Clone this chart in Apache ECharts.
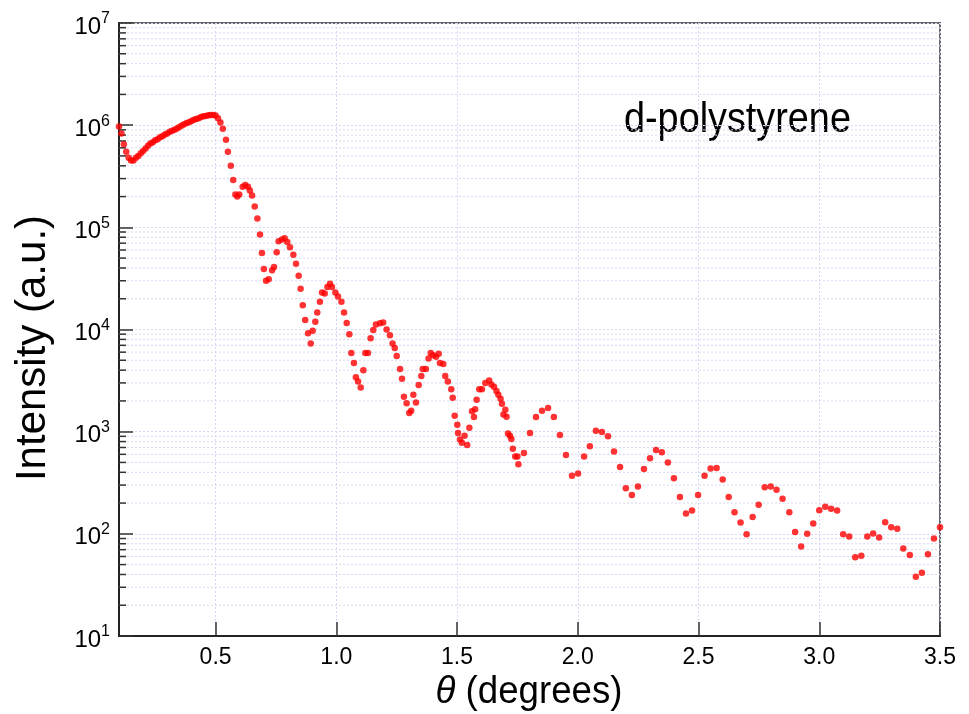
<!DOCTYPE html>
<html>
<head>
<meta charset="utf-8">
<title>d-polystyrene reflectivity</title>
<script src="https://cdn.jsdelivr.net/npm/echarts@6/dist/echarts.min.js"></script>
<style>
  html, body { margin: 0; padding: 0; background: #fff; }
  #chart { width: 969px; height: 714px; }
</style>
</head>
<body>
<div id="chart"></div>
<script>
// 数据：θ (度) 与强度
const theta = [
  0.10, 0.11, 0.12, 0.13, 0.14, 0.15, 0.16, 0.17, 0.18, 0.19,
  0.20, 0.21, 0.22, 0.23, 0.24, 0.25, 0.26, 0.27, 0.28, 0.29,
  0.30, 0.31, 0.32, 0.33, 0.34, 0.35, 0.36, 0.37, 0.38, 0.39,
  0.40, 0.41, 0.42, 0.43, 0.44, 0.45, 0.46, 0.47, 0.48, 0.49,
  0.50, 0.51, 0.52, 0.53,
  0.543, 0.551, 0.563, 0.573, 0.582, 0.590, 0.598, 0.612, 0.623, 0.634,
  0.642, 0.651, 0.662, 0.673, 0.684, 0.692, 0.700, 0.709, 0.720, 0.734,
  0.742, 0.753, 0.761, 0.775, 0.786, 0.797, 0.808, 0.822, 0.833, 0.844,
  0.852, 0.861, 0.871, 0.883, 0.894, 0.902, 0.913, 0.921, 0.932, 0.941,
  0.952, 0.963, 0.974, 0.982, 0.996, 1.007, 1.021, 1.032, 1.043, 1.054,
  1.062, 1.073, 1.081, 1.090, 1.101, 1.112, 1.120, 1.131, 1.142, 1.153,
  1.164, 1.181, 1.194, 1.208, 1.222, 1.233, 1.242, 1.250, 1.264, 1.272,
  1.280, 1.291, 1.302, 1.310, 1.319, 1.330, 1.341, 1.352, 1.358, 1.371,
  1.382, 1.391, 1.401, 1.413, 1.424, 1.429, 1.443, 1.451, 1.462, 1.476,
  1.482, 1.490, 1.501, 1.504, 1.512, 1.520, 1.531, 1.542, 1.551, 1.562,
  1.570, 1.575, 1.581, 1.592, 1.603, 1.617, 1.633, 1.642, 1.653, 1.663,
  1.671, 1.680, 1.686, 1.692, 1.700, 1.705, 1.711, 1.719, 1.725, 1.731,
  1.741, 1.750, 1.754,
  1.777, 1.802, 1.827, 1.852, 1.877, 1.901, 1.926, 1.951, 1.976, 2.001,
  2.026, 2.050, 2.075, 2.100, 2.125, 2.150, 2.175, 2.199, 2.224, 2.249,
  2.274, 2.299, 2.324, 2.348, 2.373, 2.398, 2.423, 2.448, 2.473, 2.498,
  2.525, 2.550, 2.575, 2.600, 2.625, 2.649, 2.674, 2.699, 2.724, 2.749,
  2.774, 2.799, 2.823, 2.848, 2.876, 2.900, 2.925, 2.950, 2.975, 3.000,
  3.025, 3.049, 3.074, 3.099, 3.124, 3.149, 3.174, 3.199, 3.223, 3.248,
  3.273, 3.298, 3.323, 3.348, 3.375, 3.400, 3.425, 3.450, 3.475, 3.500
]

const intensity = [
  9.7e5, 8.3e5, 6.5e5, 5.5e5, 4.8e5, 4.5e5, 4.5e5, 4.8e5, 5.0e5, 5.3e5,
  5.6e5, 5.9e5, 6.3e5, 6.6e5, 6.8e5, 7.1e5, 7.3e5, 7.6e5, 7.8e5, 8.1e5,
  8.3e5, 8.6e5, 8.8e5, 9.0e5, 9.3e5, 9.6e5, 9.9e5, 1.02e6, 1.05e6, 1.07e6,
  1.10e6, 1.13e6, 1.15e6, 1.17e6, 1.20e6, 1.22e6, 1.23e6, 1.25e6, 1.26e6, 1.26e6,
  1.24e6, 1.17e6, 1.06e6, 9.2e5,
  7.2e5, 5.5e5, 4.0e5, 2.9e5, 2.1e5, 2.0e5, 2.1e5, 2.5e5, 2.6e5, 2.5e5,
  2.3e5, 2.05e5, 1.6e5, 1.22e5, 8.5e4, 5.6e4, 3.9e4, 3.0e4, 3.1e4, 3.8e4,
  4.1e4, 5.7e4, 7.3e4, 7.6e4, 7.8e4, 7.2e4, 6.4e4, 5.4e4, 4.4e4, 3.35e4,
  2.5e4, 1.73e4, 1.24e4, 9.2e3, 7.3e3, 9.7e3, 1.19e4, 1.47e4, 1.87e4, 2.3e4,
  2.25e4, 2.6e4, 2.8e4, 2.6e4, 2.3e4, 2.1e4, 1.87e4, 1.47e4, 1.16e4, 9.0e3,
  5.9e3, 4.7e3, 3.4e3, 3.1e3, 2.7e3, 4.0e3, 5.9e3, 5.9e3, 8.2e3, 9.9e3,
  1.12e4, 1.15e4, 1.17e4, 1.0e4, 8.8e3, 7.3e3, 6.6e3, 5.5e3, 4.1e3, 3.3e3,
  2.2e3, 1.9e3, 1.52e3, 1.6e3, 2.3e3, 1.93e3, 2.86e3, 3.5e3, 4.1e3, 4.1e3,
  5.2e3, 5.9e3, 5.6e3, 5.4e3, 5.8e3, 4.7e3, 4.6e3, 3.5e3, 3.1e3, 2.6e3,
  2.15e3, 1.43e3, 1.17e3, 970, 840, 780, 910, 740, 1090, 1580,
  1390, 1660, 2050, 2600, 2600, 3000, 3160, 2900, 2750, 2500,
  2300, 2100, 1880, 1470, 1640, 1400, 960, 910, 850, 680,
  570, 570, 480,
  620, 970, 1390, 1600, 1700, 1390, 930, 590, 370, 390,
  570, 720, 1020, 990, 900, 640, 450, 280, 240, 290,
  430, 550, 660, 630, 500, 350, 230, 158, 169, 240,
  370, 435, 440, 340, 230, 163, 129, 99, 146, 193,
  286, 290, 270, 220, 163, 104, 75, 100, 126, 170,
  184, 176, 169, 99, 94, 59, 61, 94, 101, 92,
  130, 116, 112, 72, 62, 38, 41.5, 63, 90, 116
]

// 刻度
const xTickValues = [0.5, 1.0, 1.5, 2.0, 2.5, 3.0, 3.5]
const decades = [1e1, 1e2, 1e3, 1e4, 1e5, 1e6]
const mantissas = [2, 3, 4, 5, 6, 7, 8, 9]
const minorTickValues = []
decades.forEach(d => mantissas.forEach(m => minorTickValues.push(m * d)))

const FONT = '"Liberation Sans", Arial, Helvetica, sans-serif'
const GRID_COLOR = '#d6d6f7'
const X_MIN = 0.1
const X_MAX = 3.5

const chart = echarts.init(document.getElementById('chart'), null, { renderer: 'canvas' })

function renderMinor(params, api) {
  const cs = params.coordSys
  const y = api.coord([X_MIN, api.value(1)])[1]
  return {
    type: 'group',
    children: [
      {
        type: 'line',
        shape: { x1: cs.x, y1: y, x2: cs.x + cs.width, y2: y },
        style: { stroke: GRID_COLOR, lineWidth: 1, lineDash: [2, 2] }
      },
      {
        type: 'line',
        shape: { x1: cs.x, y1: y, x2: cs.x + 7, y2: y },
        style: { stroke: '#333', lineWidth: 1.5 }
      }
    ]
  }
}

const option = {
  animation: false,
  backgroundColor: '#fff',
  grid: {
    left: 119,
    right: 29,
    top: 23,
    bottom: 78,
    show: true,
    borderColor: '#666',
    borderWidth: 2,
    backgroundColor: 'transparent'
  },
  xAxis: {
    type: 'value',
    min: X_MIN,
    max: X_MAX,
    axisLine: { onZero: false, lineStyle: { color: '#222', width: 2 } },
    axisTick: {
      inside: true,
      length: 14,
      customValues: xTickValues,
      lineStyle: { color: '#333', width: 1.5 }
    },
    axisLabel: {
      customValues: xTickValues,
      margin: 10,
      fontSize: 23,
      fontFamily: FONT,
      color: '#000',
      formatter: v => v.toFixed(1)
    },
    splitLine: {
      show: true,
      lineStyle: { color: GRID_COLOR, width: 1, type: [2, 2] }
    }
  },
  yAxis: {
    type: 'log',
    logBase: 10,
    min: 10,
    max: 1e7,
    axisLine: { show: true, lineStyle: { color: '#222', width: 2 } },
    axisTick: {
      inside: true,
      length: 14,
      lineStyle: { color: '#333', width: 1.5 }
    },
    axisLabel: {
      margin: 9,
      color: '#000',
      formatter: v => '{b|10}{e|' + Math.round(Math.log10(v)) + '}',
      rich: {
        b: { fontSize: 24, lineHeight: 24, padding: [8, 0, 0, 0], fontFamily: FONT, color: '#000' },
        e: { fontSize: 16, lineHeight: 16, verticalAlign: 'top', fontFamily: FONT, color: '#000' }
      }
    },
    splitLine: {
      show: true,
      lineStyle: { color: GRID_COLOR, width: 1, type: [2, 2] }
    }
  },
  graphic: [
    {
      type: 'text',
      x: 624,
      y: 120,
      scaleX: 0.9,
      style: {
        text: 'd-polystyrene',
        fontSize: 42,
        fontFamily: FONT,
        fill: '#000',
        align: 'left',
        verticalAlign: 'middle'
      }
    },
    {
      type: 'text',
      x: 529,
      y: 692,
      scaleX: 0.94,
      style: {
        text: '{i|θ} (degrees)',
        fontSize: 39,
        fontFamily: FONT,
        fill: '#000',
        align: 'center',
        verticalAlign: 'middle',
        rich: {
          i: { fontSize: 39, fontStyle: 'italic', fontFamily: FONT, fill: '#000' }
        }
      }
    },
    {
      type: 'text',
      x: 33,
      y: 348,
      rotation: Math.PI / 2,
      style: {
        text: 'Intensity (a.u.)',
        fontSize: 42,
        fontFamily: FONT,
        fill: '#000',
        align: 'center',
        verticalAlign: 'middle'
      }
    }
  ],
  series: [
    {
      type: 'custom',
      silent: true,
      z: 1,
      clip: false,
      renderItem: renderMinor,
      encode: { x: 0, y: 1 },
      data: minorTickValues.map(v => [X_MIN, v])
    },
    {
      type: 'scatter',
      z: 3,
      clip: false,
      symbol: 'circle',
      symbolSize: 6.5,
      itemStyle: { color: '#ff0000' },
      data: theta.map((t, i) => [t, intensity[i]])
    }
  ]
}

chart.setOption(option)
</script>
</body>
</html>
